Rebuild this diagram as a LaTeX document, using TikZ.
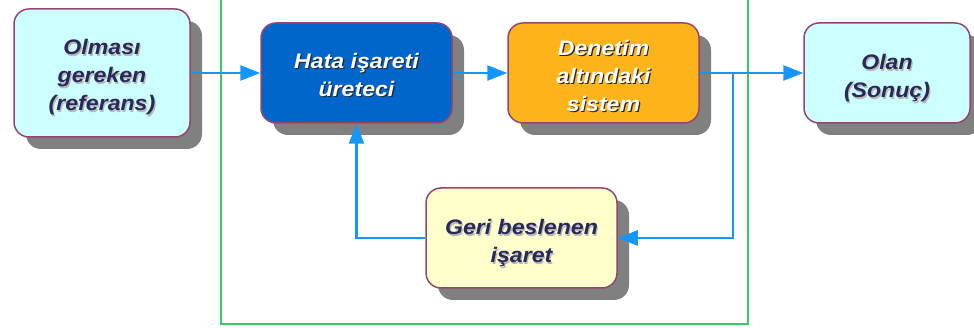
\documentclass[tikz,border=0pt]{standalone}
\usepackage{fontspec}
\newfontfamily\boxfont{Liberation Sans}[FakeStretch=1.1]
\usetikzlibrary{arrows.meta,shadows}
\definecolor{bordc}{RGB}{150,70,110}
\definecolor{cyanf}{HTML}{CCFFFF}
\definecolor{bluef}{HTML}{0066CC}
\definecolor{orangef}{HTML}{FDB41B}
\definecolor{yellowf}{HTML}{FFFFCC}
\definecolor{shgray}{HTML}{808080}
\definecolor{arrblue}{RGB}{20,150,255}
\definecolor{frameg}{RGB}{51,204,102}
\definecolor{darktxt}{RGB}{40,40,90}
\newcommand\shd[3]{\leavevmode\rlap{\hspace{1.2pt}\raisebox{-1.2pt}{\color{#2}#3}}{\color{#1}#3}}
\newcommand\dk[1]{\shd{darktxt}{gray!55}{#1}}
\newcommand\wt[1]{\shd{white}{black!85}{#1}}
\newcommand\tstrut[1]{\rule{0pt}{\dimexpr 15.5pt+2\dimexpr #1pt\relax\relax}}
\tikzset{
  blk/.style={draw=bordc, line width=1.5pt, rounded corners=15pt, inner sep=0pt, align=center,
    font=\boxfont\bfseries\itshape\fontsize{21}{28}\selectfont,
    drop shadow={shadow xshift=12pt, shadow yshift=-12pt, fill=shgray, opacity=1}},
  arr/.style={draw=arrblue, line width=2.6pt, -{Triangle[length=20pt,width=15pt]}}
}
\begin{document}
\begin{tikzpicture}[x=1pt,y=-1pt]
\useasboundingbox (0,0) rectangle (974,328);
\draw[frameg, line width=2.2pt] (221,-10) rectangle (748,324);
\node[blk, fill=cyanf, minimum width=176pt, minimum height=128pt] (ref) at (102,73) {\tstrut{5}\dk{Olması}\\\dk{gereken}\\\dk{(referans)}};
\node[blk, fill=bluef, minimum width=191pt, minimum height=100pt] (hata) at (356.5,73) {\tstrut{2}\wt{Hata işareti}\\\wt{üreteci}};
\node[blk, fill=orangef, minimum width=191pt, minimum height=100pt] (den) at (603.5,73) {\tstrut{3}\wt{Denetim}\\\wt{altındaki}\\\wt{sistem}};
\node[blk, fill=cyanf, minimum width=166pt, minimum height=100pt] (olan) at (887,73) {\tstrut{6}\dk{Olan}\\\dk{(Sonuç)}};
\node[blk, fill=yellowf, minimum width=191pt, minimum height=100pt] (geri) at (521.5,238) {\tstrut{6}\dk{Geri beslenen}\\\dk{işaret}};
\coordinate (br) at (733,73);
\draw[arr] (ref.east) -- (hata.west);
\draw[arr] (hata.east) -- (den.west);
\draw[arr] (den.east) -- (olan.west);
\draw[arr] (br) |- (geri.east);
\draw[arr] (geri.west) -| (hata.south);
\end{tikzpicture}
\end{document}
